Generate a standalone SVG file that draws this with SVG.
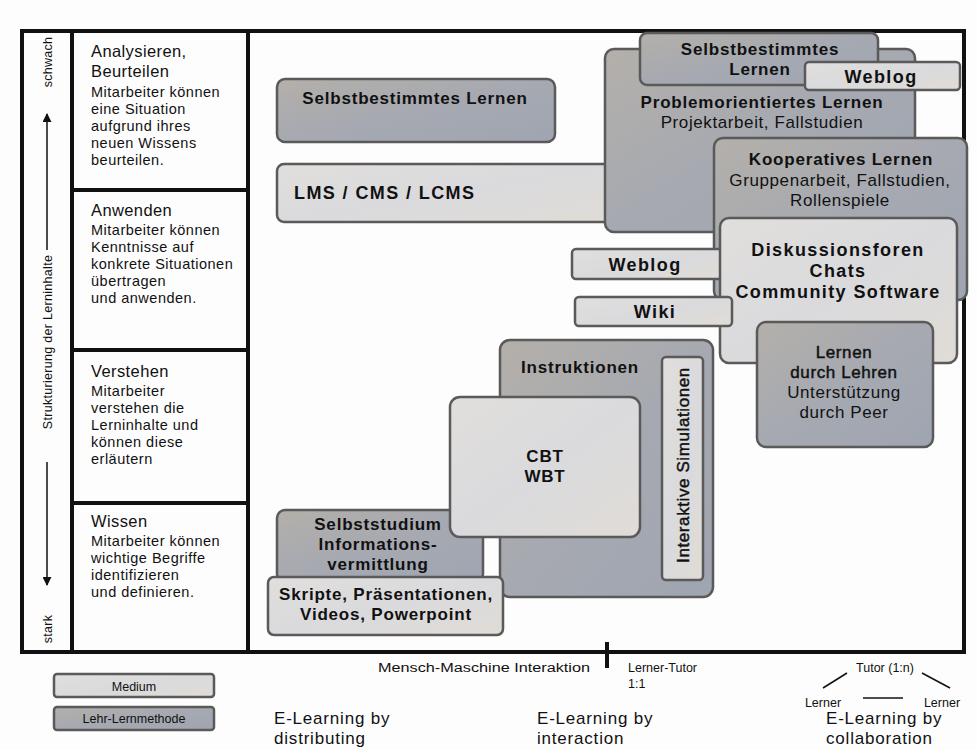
<svg xmlns="http://www.w3.org/2000/svg" width="977" height="750" viewBox="0 0 977 750">
<defs>
<linearGradient id="dk" x1="0" y1="0" x2="1" y2="1">
<stop offset="0" stop-color="#b4b0aa"/>
<stop offset="0.5" stop-color="#a6a9b1"/>
<stop offset="1" stop-color="#9fa5b1"/>
</linearGradient>
<linearGradient id="lt" x1="0" y1="0" x2="1" y2="1">
<stop offset="0" stop-color="#e1dfdc"/>
<stop offset="0.5" stop-color="#dadadd"/>
<stop offset="1" stop-color="#e0dcd6"/>
</linearGradient>
<marker id="ah" viewBox="0 0 10 10" refX="9" refY="5" markerWidth="6" markerHeight="6" orient="auto-start-reverse">
<path d="M0,0 L10,5 L0,10 z" fill="#111"/>
</marker>
</defs>
<style>
text{font-family:"Liberation Sans",Arial,sans-serif;fill:#111}
.dk{fill:url(#dk);stroke:#5a5a5a;stroke-width:2.5}
.lt{fill:url(#lt);stroke:#5a5a5a;stroke-width:2.5}
.b{font-weight:700;font-size:17px;letter-spacing:0.8px;text-anchor:middle}
.bb{font-weight:700;font-size:18px;letter-spacing:1.4px;text-anchor:middle}
.r{font-size:17px;letter-spacing:0.6px;text-anchor:middle}
.m{stroke:#111;stroke-width:0.45px}
.h{font-size:16.5px;letter-spacing:0.4px}
.s{font-size:14.5px;letter-spacing:0.5px}
.v{font-size:12.5px;letter-spacing:0.3px;text-anchor:middle}
.frame{fill:none;stroke:#111;stroke-width:4}
.ln{stroke:#111;stroke-width:1.5;fill:none}
.lg{font-size:17px;letter-spacing:0.8px}
.sm{font-size:12.5px}
</style>
<rect width="977" height="750" fill="#fdfdfd"/>

<g id="frame">
<rect class="frame" x="22" y="31" width="942" height="621"/>
<line class="frame" x1="72" y1="31" x2="72" y2="652"/>
<line class="frame" x1="248" y1="31" x2="248" y2="652"/>
<line class="frame" x1="72" y1="190" x2="248" y2="190"/>
<line class="frame" x1="72" y1="350" x2="248" y2="350"/>
<line class="frame" x1="72" y1="503" x2="248" y2="503"/>
<line x1="607" y1="642" x2="607" y2="668" stroke="#111" stroke-width="4"/>
</g>

<g id="axis">
<text class="v" transform="translate(52,62) rotate(-90)">schwach</text>
<text class="v" transform="translate(52,342) rotate(-90)">Strukturierung der Lerninhalte</text>
<text class="v" transform="translate(52,629) rotate(-90)">stark</text>
</g>

<g id="level-analysieren">
<text x="91" y="57" class="h">Analysieren,</text>
<text x="91" y="77" class="h">Beurteilen</text>
<text x="91" y="97" class="s">Mitarbeiter können</text>
<text x="91" y="114" class="s">eine Situation</text>
<text x="91" y="131" class="s">aufgrund ihres</text>
<text x="91" y="148" class="s">neuen Wissens</text>
<text x="91" y="165" class="s">beurteilen.</text>
</g>
<g id="level-anwenden">
<text x="91" y="216" class="h">Anwenden</text>
<text x="91" y="235" class="s">Mitarbeiter können</text>
<text x="91" y="252" class="s">Kenntnisse auf</text>
<text x="91" y="269" class="s">konkrete Situationen</text>
<text x="91" y="286" class="s">übertragen</text>
<text x="91" y="303" class="s">und anwenden.</text>
</g>
<g id="level-verstehen">
<text x="91" y="377" class="h">Verstehen</text>
<text x="91" y="396" class="s">Mitarbeiter</text>
<text x="91" y="413" class="s">verstehen die</text>
<text x="91" y="430" class="s">Lerninhalte und</text>
<text x="91" y="447" class="s">können diese</text>
<text x="91" y="464" class="s">erläutern</text>
</g>
<g id="level-wissen">
<text x="91" y="527" class="h">Wissen</text>
<text x="91" y="546" class="s">Mitarbeiter können</text>
<text x="91" y="563" class="s">wichtige Begriffe</text>
<text x="91" y="580" class="s">identifizieren</text>
<text x="91" y="597" class="s">und definieren.</text>
</g>

<g id="selbstbestimmtes-links">
<rect class="dk" x="277" y="79" width="278" height="63" rx="8"/>
<text x="415" y="104" class="b">Selbstbestimmtes Lernen</text>
</g>
<g id="lms">
<rect class="lt" x="277" y="164" width="336" height="58" rx="7"/>
<text x="294" y="199" class="bb" style="text-anchor:start">LMS / CMS / LCMS</text>
</g>
<g id="problemorientiert">
<rect class="dk" x="605" y="49" width="310" height="183" rx="9"/>
<text x="762" y="108" class="b">Problemorientiertes Lernen</text>
<text x="762" y="128" class="r">Projektarbeit, Fallstudien</text>
</g>
<g id="selbstbestimmtes-oben">
<rect class="dk" x="640" y="33" width="238" height="52" rx="7"/>
<text x="760" y="55" class="b">Selbstbestimmtes</text>
<text x="760" y="75" class="b">Lernen</text>
</g>
<g id="weblog-oben">
<rect class="lt" x="805" y="62" width="155" height="28" rx="4"/>
<text x="881" y="83" class="bb">Weblog</text>
</g>
<g id="kooperativ">
<rect class="dk" x="714" y="138" width="253" height="162" rx="9"/>
<text x="841" y="165" class="b">Kooperatives Lernen</text>
<text x="840" y="186" class="r">Gruppenarbeit, Fallstudien,</text>
<text x="840" y="206" class="r">Rollenspiele</text>
</g>
<g id="weblog-mitte">
<rect class="lt" x="572" y="249" width="150" height="30" rx="4"/>
<text x="645" y="271" class="bb">Weblog</text>
</g>
<g id="diskussionsforen">
<rect class="lt" x="720" y="218" width="237" height="145" rx="9"/>
<text x="838" y="256" class="bb">Diskussionsforen</text>
<text x="838" y="277" class="bb">Chats</text>
<text x="838" y="298" class="bb">Community Software</text>
</g>
<g id="wiki">
<rect class="lt" x="575" y="297" width="157" height="29" rx="4"/>
<text x="655" y="318" class="bb">Wiki</text>
</g>
<g id="lernen-durch-lehren">
<rect class="dk" x="757" y="322" width="176" height="125" rx="9"/>
<text x="844" y="358" class="r m">Lernen</text>
<text x="844" y="378" class="r m">durch Lehren</text>
<text x="844" y="398" class="r">Unterstützung</text>
<text x="844" y="418" class="r">durch Peer</text>
</g>
<g id="instruktionen">
<rect class="dk" x="500" y="340" width="213" height="257" rx="10"/>
<text x="580" y="373" class="b">Instruktionen</text>
</g>
<g id="interaktive-simulationen">
<rect class="lt" x="662" y="357" width="41" height="223" rx="4"/>
<text class="r m" transform="translate(689,465) rotate(-90)">Interaktive Simulationen</text>
</g>
<g id="selbststudium">
<rect class="dk" x="277" y="510" width="206" height="72" rx="8"/>
<text x="378" y="530" class="b">Selbststudium</text>
<text x="378" y="550" class="b">Informations-</text>
<text x="378" y="570" class="b">vermittlung</text>
</g>
<g id="cbt-wbt">
<rect class="lt" x="450" y="397" width="190" height="140" rx="10"/>
<text x="545" y="462" class="b">CBT</text>
<text x="545" y="482" class="b">WBT</text>
</g>
<g id="skripte">
<rect class="lt" x="268" y="577" width="235" height="58" rx="6"/>
<text x="386" y="600" class="b">Skripte, Präsentationen,</text>
<text x="386" y="620" class="b">Videos, Powerpoint</text>
</g>

<g id="connectors">
<line class="ln" x1="47" y1="250" x2="47" y2="114" marker-end="url(#ah)"/>
<line class="ln" x1="47" y1="462" x2="47" y2="585" marker-end="url(#ah)"/>
<line class="ln" x1="847" y1="673" x2="823" y2="688"/>
<line class="ln" x1="922" y1="673" x2="950" y2="688"/>
<line class="ln" x1="863" y1="698" x2="903" y2="698"/>
</g>

<g id="axis-labels">
<text x="590" y="672" class="sm" style="text-anchor:end" textLength="212" lengthAdjust="spacingAndGlyphs">Mensch-Maschine Interaktion</text>
<text x="628" y="672" class="sm">Lerner-Tutor</text>
<text x="628" y="688" class="sm">1:1</text>
<text x="885" y="672" class="sm" style="text-anchor:middle">Tutor (1:n)</text>
<text x="823" y="707" class="sm" style="text-anchor:middle">Lerner</text>
<text x="942" y="707" class="sm" style="text-anchor:middle">Lerner</text>
<text x="274" y="724" class="lg">E-Learning by</text>
<text x="274" y="744" class="lg">distributing</text>
<text x="537" y="724" class="lg">E-Learning by</text>
<text x="537" y="744" class="lg">interaction</text>
<text x="826" y="724" class="lg">E-Learning by</text>
<text x="826" y="744" class="lg">collaboration</text>
</g>

<g id="legend-medium">
<rect class="lt" x="54" y="674" width="160" height="23" rx="3"/>
<text x="134" y="691" class="sm" style="text-anchor:middle">Medium</text>
</g>
<g id="legend-methode">
<rect class="dk" x="54" y="707" width="160" height="23" rx="3"/>
<text x="134" y="723" class="sm" style="text-anchor:middle">Lehr-Lernmethode</text>
</g>
</svg>
